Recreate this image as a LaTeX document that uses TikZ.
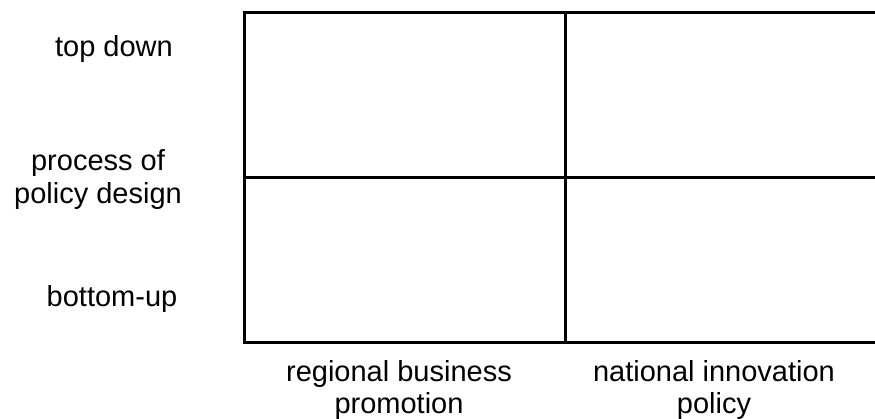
\documentclass[tikz,border=0pt]{standalone}
\usepackage{fontspec}
\setmainfont{Liberation Sans}
\begin{document}
\begin{tikzpicture}[x=1pt,y=-1pt,
  lbl/.style={inner sep=0pt, align=center, font=\fontsize{29}{33}\selectfont},
  gridline/.style={line width=3pt, black}]
\useasboundingbox (0,0) rectangle (875,419);
\clip (0,0) rectangle (875,419);
% grid
\coordinate (tl) at (244,13);
\coordinate (br) at (888,342.5);
\coordinate (mt) at (565.5,13);
\coordinate (mb) at (565.5,342.5);
\coordinate (ml) at (244,178);
\coordinate (mr) at (888,178);
\draw[gridline] (tl) rectangle (br);
\draw[gridline] (mt) -- (mb);
\draw[gridline] (ml) -- (mr);
% labels
\node[lbl, anchor=base] (td) at (114,57) {top down};
\node[lbl] (pd) at (98,180) {process of\\policy design};
\node[lbl, anchor=base] (bu) at (112,307) {bottom-up};
\node[lbl, font=\fontsize{29}{32}\selectfont] (rb) at (399,390.5) {regional business\\promotion};
\node[lbl, font=\fontsize{29}{32}\selectfont] (ni) at (714,390.5) {national innovation\\policy};
\end{tikzpicture}
\end{document}
